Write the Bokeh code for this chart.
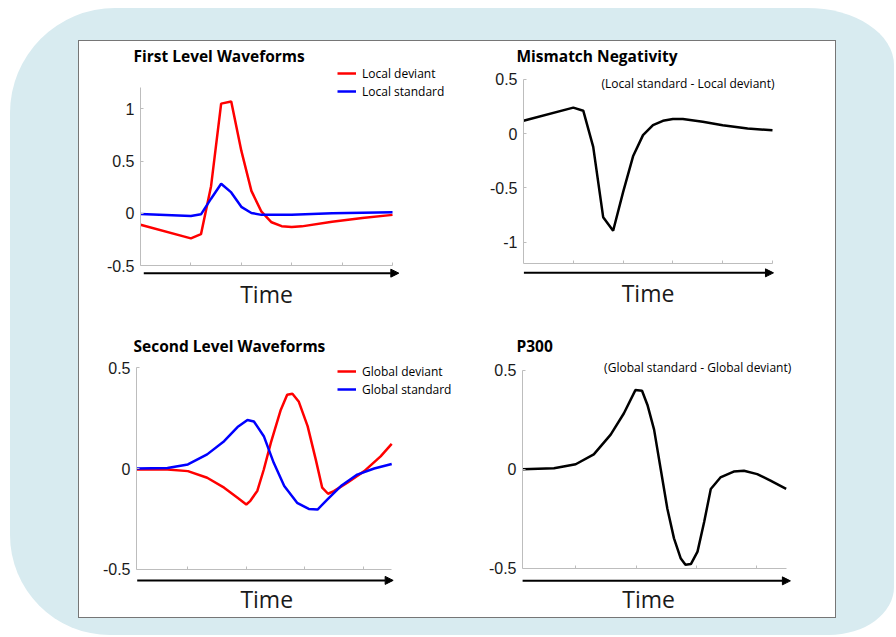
from bokeh.plotting import figure
from bokeh.models import (Arrow, NormalHead, Label, FixedTicker, CustomJSTickFormatter,
                          Range1d, LinearAxis, Legend, LegendItem)
from bokeh.layouts import column, row
from bokeh.embed import file_html
from bokeh.resources import INLINE

# ---------------- data ----------------
# First level waveforms (top left)
loc_dev_x = [0, 100, 120, 140, 160, 180, 200, 220, 240, 260, 280, 300, 320, 380, 440, 500]
loc_dev_y = [-0.11, -0.24, -0.20, 0.26, 1.05, 1.07, 0.60, 0.215, 0.015, -0.086, -0.123, -0.132, -0.125, -0.08, -0.045, -0.015]
loc_std_x = [0, 100, 120, 140, 160, 180, 200, 220, 240, 300, 380, 500]
loc_std_y = [-0.006, -0.025, -0.01, 0.14, 0.283, 0.2, 0.062, 0.003, -0.015, -0.015, 0.0, 0.01]

# Mismatch negativity (top right)
mmn_x = [0, 100, 120, 140, 160, 180, 200, 220, 240, 260, 280, 300, 320, 360, 400, 450, 500]
mmn_y = [0.117, 0.238, 0.21, -0.123, -0.77, -0.895, -0.54, -0.21, -0.015, 0.077, 0.117, 0.133, 0.133, 0.108, 0.077, 0.046, 0.03]

# Second level waveforms (bottom left)
glob_dev_x = [-88, -35, 0, 33, 62, 85, 100, 107, 119, 130, 142, 159, 170, 179, 190, 205, 219, 230, 240, 250, 273, 302, 330, 349]
glob_dev_y = [-0.005, -0.005, -0.013, -0.046, -0.095, -0.145, -0.178, -0.16, -0.11, -0.005, 0.127, 0.29, 0.365, 0.37, 0.33, 0.21, 0.044, -0.095, -0.125, -0.112, -0.07, -0.013, 0.06, 0.122]
glob_std_x = [-88, -35, 0, 33, 62, 85, 102, 113, 130, 147, 165, 187, 207, 222, 239, 262, 290, 319, 349]
glob_std_y = [0.0, 0.003, 0.02, 0.07, 0.135, 0.205, 0.24, 0.233, 0.16, 0.028, -0.087, -0.17, -0.2, -0.203, -0.153, -0.087, -0.03, 0.0, 0.022]

# P300 (bottom right)
p300_x = [-88, -36, 0, 30, 58, 80, 99, 110, 119, 130, 141, 152, 163, 174, 182, 191, 202, 213, 224, 240, 262, 279, 301, 323, 349]
p300_y = [0.0, 0.005, 0.025, 0.075, 0.175, 0.283, 0.4, 0.397, 0.325, 0.2, 0.0, -0.2, -0.35, -0.45, -0.483, -0.48, -0.417, -0.267, -0.1, -0.042, -0.012, -0.008, -0.025, -0.058, -0.1]

top_xticks = [0, 100, 200, 300, 400, 500]
bot_xticks = [0, 100, 200, 300]
tl_yticks = [-0.5, 0, 0.5, 1]
tr_yticks = [-1, -0.5, 0, 0.5]
bot_yticks = [-0.5, 0, 0.5]

titles = ["First Level Waveforms", "Mismatch Negativity", "Second Level Waveforms", "P300"]
legend_tl = ["Local deviant", "Local standard"]
legend_bl = ["Global deviant", "Global standard"]
notes = ["(Local standard - Local deviant)", "(Global standard - Global deviant)"]
xlabel = "Time"

# ---------------- styling ----------------
AX = "#bdbdbd"
TXT = "#1a1a1a"
FONT = "Open Sans"


def make_fig(bl, br, bt, bb, xr, yr, xbounds, ybounds, xticks, yticks, title, toff):
    p = figure(width=378, height=288, min_border_left=bl, min_border_right=br,
               min_border_top=bt, min_border_bottom=bb,
               x_range=Range1d(*xr), y_range=Range1d(*yr),
               x_axis_location=None, y_axis_location=None,
               output_backend="svg", toolbar_location=None, title=title)
    p.grid.visible = False
    p.outline_line_color = None
    p.background_fill_color = "white"
    p.border_fill_color = "white"
    p.title.align = "left"
    p.title.offset = toff
    p.title.text_font = FONT
    p.title.text_font_size = "15.5px"
    p.title.text_font_style = "bold"
    p.title.text_color = "black"
    p.title.standoff = 0

    yax = LinearAxis(ticker=FixedTicker(ticks=yticks), bounds=ybounds,
                     formatter=CustomJSTickFormatter(code="return tick.toString()"))
    yax.axis_line_color = AX
    yax.major_tick_line_color = AX
    yax.major_tick_in = 3
    yax.major_tick_out = 0
    yax.minor_tick_line_color = None
    yax.major_label_text_font = "Liberation Sans"
    yax.major_label_text_font_size = "16px"
    yax.major_label_text_color = TXT
    yax.major_label_standoff = 6
    p.add_layout(yax, "left")

    xax = LinearAxis(ticker=FixedTicker(ticks=xticks), bounds=xbounds,
                     fixed_location=ybounds[0],
                     formatter=CustomJSTickFormatter(code="return ''"))
    xax.axis_line_color = AX
    xax.major_tick_line_color = AX
    xax.major_tick_in = 3
    xax.major_tick_out = 0
    xax.minor_tick_line_color = None
    xax.major_label_text_font_size = "0px"
    p.add_layout(xax, "below")
    return p


def add_arrow(p, x0, x1, y):
    p.add_layout(Arrow(end=NormalHead(size=8, fill_color="black", line_color="black", line_width=1),
                       x_start=x0, y_start=y, x_end=x1, y_end=y,
                       line_width=2, line_color="black"))


def add_time(p, x, y):
    p.add_layout(Label(x=x, y=y, text=xlabel, text_align="center", text_baseline="middle",
                       text_font=FONT, text_font_size="23px", text_color=TXT))


def add_legend(p, items, loc):
    lg = Legend(items=items, location=loc)
    lg.background_fill_alpha = 0
    lg.border_line_color = None
    lg.padding = 0
    lg.spacing = 0
    lg.margin = 0
    lg.glyph_width = 19
    lg.glyph_height = 18
    lg.label_height = 18
    lg.label_standoff = 6
    lg.label_text_font = FONT
    lg.label_text_font_size = "12px"
    lg.label_text_color = "black"
    p.add_layout(lg)


# top left
p1 = make_fig(61, 5, 23, 17, (0, 619.0), (-0.9497, 1.4055), (0, 500), (-0.5, 1.2),
              top_xticks, tl_yticks, titles[0], -7)
r_dev = p1.line(loc_dev_x, loc_dev_y, line_color="#ff0000", line_width=2.5)
r_std = p1.line(loc_std_x, loc_std_y, line_color="#0000ff", line_width=2.5)
add_legend(p1, [LegendItem(label=legend_tl[0], renderers=[r_dev]),
                LegendItem(label=legend_tl[1], renderers=[r_std])], (197, 212))
add_arrow(p1, 6.5, 512.5, -0.573)
add_time(p1, 250, -0.769)

# top right
p2 = make_fig(66, 5, 25, 17, (0, 616.5), (-1.648, 0.617), (0, 500), (-1.2, 0.5),
              top_xticks, tr_yticks, titles[1], -7)
p2.line(mmn_x, mmn_y, line_color="black", line_width=2.5)
p2.add_layout(Label(x=504, y=0.458, text=notes[0], text_align="right", text_baseline="middle",
                    text_font=FONT, text_font_size="12px", text_color="black"))
add_arrow(p2, 0.6, 502, -1.283)
add_time(p2, 250, -1.473)

# bottom left
p3 = make_fig(57, 5, 27, 5, (-88.0, 453.1), (-0.7129, 0.5545), (-88, 349), (-0.5, 0.5),
              bot_xticks, bot_yticks, titles[2], -3)
g_dev = p3.line(glob_dev_x, glob_dev_y, line_color="#ff0000", line_width=2.5)
g_std = p3.line(glob_std_x, glob_std_y, line_color="#0000ff", line_width=2.5)
add_legend(p3, [LegendItem(label=legend_bl[0], renderers=[g_dev]),
                LegendItem(label=legend_bl[1], renderers=[g_std])], (201, 214))
add_arrow(p3, -86.8, 351.5, -0.554)
add_time(p3, 135, -0.647)

# bottom right
p4 = make_fig(65, 5, 24, 5, (-88.2, 422.5), (-0.725, 0.57), (-88, 349), (-0.5, 0.5),
              bot_xticks, bot_yticks, titles[3], -6)
p4.line(p300_x, p300_y, line_color="black", line_width=2.5)
p4.add_layout(Label(x=357.4, y=0.514, text=notes[1], text_align="right", text_baseline="middle",
                    text_font=FONT, text_font_size="12px", text_color="black"))
add_arrow(p4, -88.7, 356, -0.565)
add_time(p4, 121, -0.6585)

inner = column(row(p1, p2), row(p3, p4),
               styles={"background-color": "white", "border": "1px solid #767676"})
outer = column(inner, styles={"background-color": "#d8ebf0",
                              "border-radius": "105px 87px 65px 100px / 105px 57px 48px 100px",
                              "margin": "8px 0px 0px 10px",
                              "padding": "32px 58px 17px 68px"})

open("out.html", "w").write(file_html(outer, INLINE))
